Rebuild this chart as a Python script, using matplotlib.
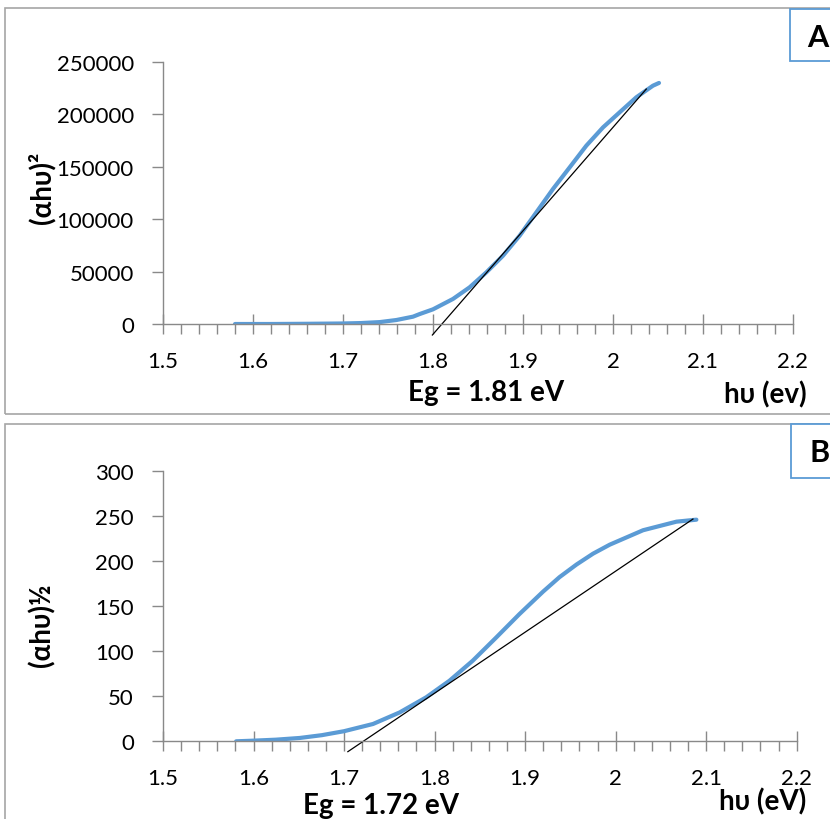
import matplotlib
matplotlib.use("Agg")
import matplotlib.pyplot as plt
from matplotlib.ticker import MultipleLocator
from matplotlib.patches import Rectangle

plt.rcParams['font.family'] = ['Lato', 'DejaVu Sans']

# panel A: (alpha h nu)^2 vs h nu
hv_a = [1.58, 1.62, 1.66, 1.70, 1.72, 1.7407, 1.7593, 1.7778, 1.7852, 1.80, 1.8222,
        1.8407, 1.8593, 1.8778, 1.8963, 1.9148, 1.9333, 1.9519, 1.9704, 1.9889,
        2.0074, 2.0259, 2.0444, 2.0511]
val_a = [0, 0, 200, 500, 900, 1800, 3800, 7000, 9500, 14000, 23900,
         35000, 49300, 65200, 84300, 106500, 128800, 149500, 170200, 187600,
         202000, 216300, 227400, 230000]
tan_a_x = [1.7993, 2.037]
tan_a_y = [-10500, 224200]

# panel B: (alpha h nu)^1/2 vs h nu
hv_b = [1.5808, 1.60, 1.6247, 1.6511, 1.6755, 1.70, 1.732, 1.7614, 1.7908, 1.8165,
        1.8422, 1.868, 1.8937, 1.9199, 1.9380, 1.9568, 1.9750, 1.9935, 2.0303,
        2.0672, 2.0892]
val_b = [0, 0.7, 1.8, 3.7, 6.8, 11.2, 19.2, 32, 48.8, 67.2,
         89.4, 115, 141, 166, 182, 196, 208, 218, 234, 243.5, 245.7]
tan_b_x = [1.7042, 2.0854]
tan_b_y = [-11.5, 246.4]

blue = '#5B9BD5'
grey = '#898989'

fig = plt.figure(figsize=(8.3, 8.2), dpi=100)

def px(x, y):
    return x / 830, 1 - y / 820

# panel frames
fig.patches.append(Rectangle(px(5, 415), 900 / 830, 406 / 820, transform=fig.transFigure,
                             fill=False, edgecolor='#A6A6A6', lw=1.2))
fig.patches.append(Rectangle(px(5, 900), 900 / 830, 475 / 820, transform=fig.transFigure,
                             fill=False, edgecolor='#A6A6A6', lw=1.2))
# letter boxes
fig.patches.append(Rectangle(px(790, 62), 60 / 830, 52 / 820, transform=fig.transFigure,
                             fill=True, facecolor='white', edgecolor=blue, lw=1.3))
fig.patches.append(Rectangle(px(791, 479), 60 / 830, 54 / 820, transform=fig.transFigure,
                             fill=True, facecolor='white', edgecolor=blue, lw=1.3))
fig.text(*px(818, 38), 'A', fontsize=22, fontweight='bold', ha='center', va='center')
fig.text(*px(820, 453), 'B', fontsize=22, fontweight='bold', ha='center', va='center')


def style(ax):
    for s in ['top', 'right']:
        ax.spines[s].set_visible(False)
    for s in ['left', 'bottom']:
        ax.spines[s].set_color(grey)
        ax.spines[s].set_linewidth(1.0)
    ax.set_xlim(1.5, 2.2)
    ax.xaxis.set_major_locator(MultipleLocator(0.1))
    ax.xaxis.set_minor_locator(MultipleLocator(0.02))
    ax.tick_params(axis='x', which='major', direction='inout', length=15, width=1,
                   color=grey, pad=12, labelsize=16)
    ax.tick_params(axis='x', which='minor', direction='out', length=7, width=1, color=grey)
    ax.tick_params(axis='y', which='major', direction='out', length=8, width=1,
                   color=grey, pad=13, labelsize=16)
    ax.xaxis.set_major_formatter(plt.FuncFormatter(lambda v, p: ('%.1f' % v).rstrip('0').rstrip('.')))


ax1 = fig.add_axes([163 / 830, 1 - 325 / 820, 630 / 830, 262 / 820])
ax1.plot(hv_a, val_a, color=blue, lw=3, solid_capstyle='round')
ax1.plot(tan_a_x, tan_a_y, color='black', lw=0.9, clip_on=False)
ax1.set_ylim(0, 250000)
ax1.yaxis.set_major_locator(MultipleLocator(50000))
style(ax1)
fig.text(*px(42, 188), '(αhυ)²', rotation=90, fontsize=20, fontweight='bold',
         ha='center', va='center')
fig.text(*px(486, 393), 'Eg = 1.81 eV', fontsize=20, fontweight='bold', ha='center', va='center')
fig.text(*px(765, 395), 'hυ (ev)', fontsize=20, fontweight='bold', ha='center', va='center')

ax2 = fig.add_axes([163 / 830, 1 - 742.3 / 820, 633.7 / 830, 270.6 / 820])
ax2.plot(hv_b, val_b, color=blue, lw=3, solid_capstyle='round')
ax2.plot(tan_b_x, tan_b_y, color='black', lw=0.9, clip_on=False)
ax2.set_ylim(0, 300)
ax2.yaxis.set_major_locator(MultipleLocator(50))
style(ax2)
fig.text(*px(42, 625), '(αhυ)½', rotation=90, fontsize=20, fontweight='bold',
         ha='center', va='center')
fig.text(*px(381, 806), 'Eg = 1.72 eV', fontsize=20, fontweight='bold', ha='center', va='center')
fig.text(*px(763, 802), 'hυ (eV)', fontsize=20, fontweight='bold', ha='center', va='center')

fig.savefig('out.png', dpi=100)
